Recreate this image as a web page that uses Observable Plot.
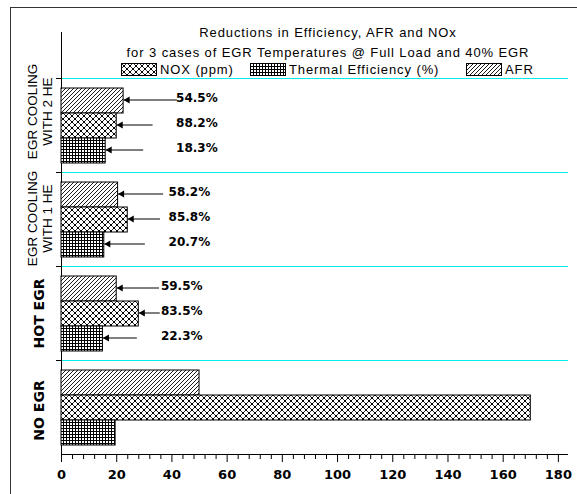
<!DOCTYPE html>
<html><head><meta charset="utf-8">
<script src="https://cdn.jsdelivr.net/npm/d3@7"></script>
<script src="https://cdn.jsdelivr.net/npm/@observablehq/plot@0.6"></script>
<style>
body{margin:0;background:#fff;}
#wrap{position:relative;width:577px;height:494px;overflow:hidden;font-family:"Liberation Sans",Arial,sans-serif;color:#000;}
#border{position:absolute;left:10px;top:7px;width:700px;height:700px;border-left:1px solid #333;border-top:1px solid #333;}
.t{position:absolute;white-space:nowrap;font-size:13px;letter-spacing:0.9px;line-height:1;transform:translate(-50%,-50%);}
.lg{position:absolute;top:63px;height:13px;display:flex;align-items:center;white-space:nowrap;font-size:13px;letter-spacing:0.9px;}
.lg svg{margin-right:3px;}
#chart{position:absolute;left:0;top:0;}
</style></head>
<body>
<svg width="0" height="0" style="position:absolute">
<defs>
<pattern id="pAFR" patternUnits="userSpaceOnUse" width="4" height="4">
<rect width="4" height="4" fill="white"/>
<path d="M-1,1 L1,-1 M0,4 L4,0 M3,5 L5,3" stroke="black" stroke-width="0.9"/>
</pattern>
<pattern id="pNOX" patternUnits="userSpaceOnUse" width="6" height="6">
<rect width="6" height="6" fill="white"/>
<path d="M0,0 L6,6 M6,0 L0,6" stroke="black" stroke-width="0.8"/>
<rect x="-1" y="-1" width="2" height="2" fill="black"/><rect x="5" y="-1" width="2" height="2" fill="black"/>
<rect x="-1" y="5" width="2" height="2" fill="black"/><rect x="5" y="5" width="2" height="2" fill="black"/>
<rect x="2" y="2" width="2" height="2" fill="black"/>
</pattern>
<pattern id="pTH" patternUnits="userSpaceOnUse" width="3" height="3">
<rect width="3" height="3" fill="white"/>
<path d="M0.5,0 V3 M0,0.5 H3" stroke="black" stroke-width="1"/>
</pattern>
</defs>
</svg>
<div id="wrap">
<div id="border"></div>
<div id="chart"></div>
<div id="title"></div>
<div id="legend"></div>
</div>
<script>
// ---- data ----
const groups = ["2HE", "1HE", "HOT", "NO"];
const groupLabels = ["EGR COOLING\nWITH 2 HE", "EGR COOLING\nWITH 1 HE", "HOT EGR", "NO EGR"];
const series = ["AFR", "NOX", "Thermal"];
const afrValues = [22.5, 20.5, 20, 50];
const noxValues = [20, 24, 28, 170];
const thermalValues = [16, 15.5, 15, 19.6];
const afrReduction = ["54.5%", "58.2%", "59.5%"];
const noxReduction = ["88.2%", "85.8%", "83.5%"];
const thermalReduction = ["18.3%", "20.7%", "22.3%"];
const xMajorTicks = [0, 20, 40, 60, 80, 100, 120, 140, 160, 180];
const titleLines = ["Reductions in Efficiency, AFR and NOx", "for 3 cases of EGR Temperatures @ Full Load and 40% EGR"];
const legendLabels = ["NOX (ppm)", "Thermal Efficiency (%)", "AFR"];
// callout anchor points in data units (label start, arrow tail per series)
const calloutLabelX = [41.5, 38.8, 36];
const calloutTailAFR = [41.8, 36.8, 35.3];
const calloutTailNOX = [33.0, 35.7, 35.6];
const calloutTailTH = [29.6, 30.2, 27.3];

// ---- tables ----
const valuesBySeries = {AFR: afrValues, NOX: noxValues, Thermal: thermalValues};
const rows = [];
groups.forEach((g, i) => series.forEach(s => rows.push({group: g, series: s, value: valuesBySeries[s][i]})));
const redBySeries = {AFR: afrReduction, NOX: noxReduction, Thermal: thermalReduction};
const tailBySeries = {AFR: calloutTailAFR, NOX: calloutTailNOX, Thermal: calloutTailTH};
const callouts = [];
groups.slice(0, 3).forEach((g, i) => series.forEach(s => callouts.push({
  group: g, series: s, value: valuesBySeries[s][i], label: redBySeries[s][i],
  tail: tailBySeries[s][i], labelX: calloutLabelX[i]
})));
const minorTicks = d3.range(0, 184, 4).filter(v => v % 20 !== 0);
const patternOf = {AFR: "url(#pAFR)", NOX: "url(#pNOX)", Thermal: "url(#pTH)"};
const lbl = groups.map((g, i) => ({group: g, text: groupLabels[i]}));

const plot = Plot.plot({
  width: 577, height: 494,
  marginTop: 76, marginBottom: 39, marginLeft: 61, marginRight: 10,
  x: {domain: [0, 183.3], axis: null},
  y: {domain: series, paddingInner: 0, paddingOuter: 0.34, axis: null},
  fy: {domain: groups, padding: 0, axis: null},
  marks: [
    Plot.frame({anchor: "top", stroke: "black", insetLeft: -5, insetRight: 505}),
    Plot.frame({anchor: "top", stroke: "#00f0f0", strokeWidth: 1.2, insetLeft: 1}),
    Plot.frame({anchor: "left", stroke: "black", insetTop: -46}),
    Plot.frame({anchor: "bottom", stroke: "black", facetAnchor: "bottom"}),
    ...series.map(s => Plot.barX(rows.filter(d => d.series === s), {
      x: "value", y: "series", fy: "group", fill: patternOf[s], stroke: "black", strokeWidth: 1
    })),
    Plot.link(callouts, {x1: "tail", x2: "value", y1: "series", y2: "series", fy: "group", stroke: "black", strokeWidth: 1, dy: -1}),
    Plot.dot(callouts, {x: "value", y: "series", fy: "group", symbol: "triangle", rotate: -90, r: 2.6, fill: "black", stroke: null, dx: 4, dy: -1}),
    Plot.text(callouts, {x: "labelX", y: "series", fy: "group", text: "label", textAnchor: "start", dy: -3,
      fontWeight: "bold", fontSize: 12, fontFamily: "DejaVu Sans"}),
    Plot.text(lbl.filter(d => d.group === "2HE"), {fy: "group", text: "text", frameAnchor: "left", rotate: -90,
      textAnchor: "middle", lineAnchor: "middle", dx: -22, dy: -14, fontSize: 13.5, lineHeight: 1.15, fontFamily: "Liberation Sans"}),
    Plot.text(lbl.filter(d => d.group === "1HE"), {fy: "group", text: "text", frameAnchor: "left", rotate: -90,
      textAnchor: "middle", lineAnchor: "middle", dx: -22, dy: -1, fontSize: 13.5, lineHeight: 1.15, fontFamily: "Liberation Sans"}),
    Plot.text(lbl.filter(d => d.group === "HOT"), {fy: "group", text: "text", frameAnchor: "left", rotate: -90,
      textAnchor: "middle", lineAnchor: "middle", dx: -22, dy: 0, fontSize: 14, fontWeight: "bold", fontFamily: "DejaVu Sans"}),
    Plot.text(lbl.filter(d => d.group === "NO"), {fy: "group", text: "text", frameAnchor: "left", rotate: -90,
      textAnchor: "middle", lineAnchor: "middle", dx: -22, dy: 3, fontSize: 14, fontWeight: "bold", fontFamily: "DejaVu Sans"}),
    Plot.axisX({ticks: minorTicks, tickSize: 5, tickFormat: () => "", stroke: "black"}),
    Plot.axisX({ticks: xMajorTicks, tickSize: 8, tickPadding: 7, stroke: "black", fontSize: 13, fontWeight: "bold",
      fontFamily: "DejaVu Sans", tickFormat: d => String(d), color: "black"})
  ]
});
plot.style.color = "black";
document.getElementById("chart").appendChild(plot);

// title
const titleDiv = document.getElementById("title");
[[31.7, titleLines[0]], [51.7, titleLines[1]]].forEach(([y, t]) => {
  const d = document.createElement("div");
  d.className = "t"; d.style.left = "328px"; d.style.top = y + "px"; d.textContent = t;
  titleDiv.appendChild(d);
});
// legend
const legendDiv = document.getElementById("legend");
const legendPatterns = ["url(#pNOX)", "url(#pTH)", "url(#pAFR)"];
const legendLeft = [121, 250, 466];
legendLabels.forEach((t, i) => {
  const d = document.createElement("div");
  d.className = "lg"; d.style.left = legendLeft[i] + "px";
  d.innerHTML = `<svg width="36" height="13"><rect x="0.5" y="0.5" width="35" height="12" fill="${legendPatterns[i]}" stroke="black"/></svg><span>${t}</span>`;
  legendDiv.appendChild(d);
});
</script>
</body></html>
